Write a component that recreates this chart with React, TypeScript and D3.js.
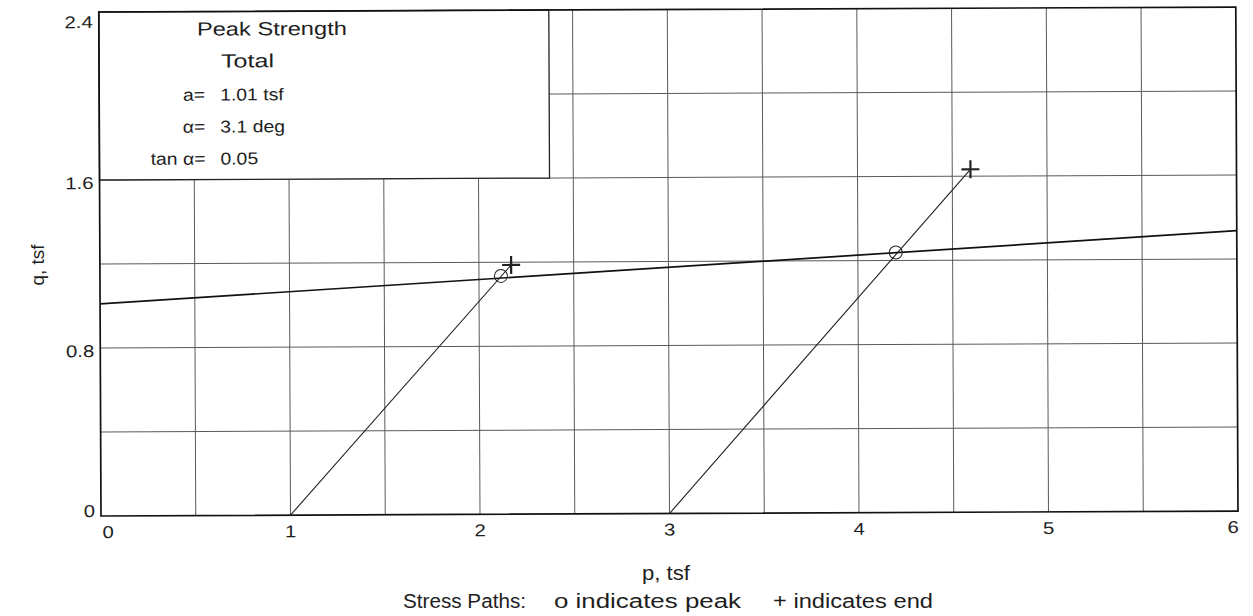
import React from "react";
import * as d3 from "d3";

const xTicks = [0, 1, 2, 3, 4, 5, 6];
const yTicks = [0, 0.8, 1.6, 2.4];
const xGrid = [0.5, 1, 1.5, 2, 2.5, 3, 3.5, 4, 4.5, 5, 5.5];
const yGrid = [0.4, 0.8, 1.2, 1.6, 2.0];

const envelopeA = 1.01;
const envelopeAlphaDeg = 3.1;

const path1P = [1, 2.17];
const path1Q = [0, 1.187];
const path2P = [3, 4.596];
const path2Q = [0, 1.633];
const peakP = [2.116, 4.2];
const peakQ = [1.135, 1.238];
const endP = [2.17, 4.596];
const endQ = [1.187, 1.633];

const legendLabels = ["a=", "\u03b1=", "tan \u03b1="];
const legendValues = ["1.01 tsf", "3.1 deg", "0.05"];

const W = 1253;
const H = 616;
const left = 101;
const right = 1238;
const top = 12;
const bottom = 516;
const font = "'Liberation Sans', Arial, Helvetica, sans-serif";
const textColor = "#1e1e1e";

type TProps = {
  x: number;
  y: number;
  size: number;
  sx?: number;
  anchor?: "start" | "middle" | "end";
  len?: number;
  children: React.ReactNode;
};

function T({ x, y, size, sx = 1.2, anchor = "start", len, children }: TProps) {
  return (
    <text
      transform={`translate(${x},${y}) scale(${len ? 1 : sx},1)`}
      fontSize={size}
      textAnchor={anchor}
      fill={textColor}
      textLength={len}
      lengthAdjust={len ? "spacingAndGlyphs" : undefined}
    >
      {children}
    </text>
  );
}

export default function App() {
  const x = d3.scaleLinear().domain([0, 6]).range([left, right]);
  const y = d3.scaleLinear().domain([0, 2.4]).range([bottom, top]);
  const line = d3
    .line<[number, number]>()
    .x((d) => x(d[0]))
    .y((d) => y(d[1]));
  const tanA = Math.tan((envelopeAlphaDeg * Math.PI) / 180);
  const env: [number, number][] = [
    [0, envelopeA],
    [6, envelopeA + tanA * 6],
  ];
  const p1: [number, number][] = path1P.map((p, i) => [p, path1Q[i]]);
  const p2: [number, number][] = path2P.map((p, i) => [p, path2Q[i]]);
  const gridColor = "#5a5a5a";
  const boxRight = 551;

  const yLabelOffset = (t: number) => (t === 0 ? 1 : t === 2.4 ? 16 : 9);

  return (
    <svg
      width={W}
      height={H}
      style={{ position: "absolute", left: 0, top: 0, background: "#fff" }}
      fontFamily={font}
    >
      <rect x={0} y={0} width={W} height={H} fill="#fff" />
      <g transform={`rotate(-0.25, ${left}, ${bottom})`}>
        {/* grid */}
        {xGrid.map((g) => (
          <line key={"xg" + g} x1={x(g)} x2={x(g)} y1={top} y2={bottom} stroke={gridColor} strokeWidth={1} />
        ))}
        {yGrid.map((g) => (
          <line key={"yg" + g} x1={left} x2={right} y1={y(g)} y2={y(g)} stroke={gridColor} strokeWidth={1} />
        ))}
        {/* legend box */}
        <rect x={left} y={top} width={boxRight - left} height={y(1.6) - top} fill="#fff" stroke="#222" strokeWidth={1.3} />
        <T x={199} y={36} size={19} len={150}>Peak Strength</T>
        <T x={223} y={68} size={19} len={53}>Total</T>
        {legendLabels.map((l, i) => (
          <g key={l}>
            <T x={207} y={101 + i * 32} size={17} sx={1.14} anchor="end">{l}</T>
            <T x={222} y={101 + i * 32} size={17} sx={1.14}>{legendValues[i]}</T>
          </g>
        ))}
        {/* frame */}
        <rect x={left} y={top} width={right - left} height={bottom - top} fill="none" stroke="#111" strokeWidth={1.7} />
        {/* envelope */}
        <path d={line(env) || ""} fill="none" stroke="#111" strokeWidth={1.7} />
        {/* stress paths */}
        <path d={line(p1) || ""} fill="none" stroke="#222" strokeWidth={1.1} />
        <path d={line(p2) || ""} fill="none" stroke="#222" strokeWidth={1.1} />
        {peakP.map((p, i) => (
          <circle key={"pk" + i} cx={x(p)} cy={y(peakQ[i])} r={6.5} fill="none" stroke="#222" strokeWidth={1} />
        ))}
        {endP.map((p, i) => {
          const cx = x(p);
          const cy = y(endQ[i]);
          return (
            <path
              key={"end" + i}
              d={`M${cx - 9},${cy}H${cx + 9}M${cx},${cy - 9}V${cy + 9}`}
              stroke="#222"
              strokeWidth={2.2}
            />
          );
        })}
        {/* tick labels */}
        {xTicks.map((t) => (
          <T key={"xt" + t} x={x(t) + (t === 0 ? 7 : t === 6 ? -5 : 0)} y={538} size={17} anchor="middle">
            {t}
          </T>
        ))}
        {yTicks.map((t) => (
          <T key={"yt" + t} x={95} y={y(t) + yLabelOffset(t)} size={17} anchor="end">
            {t === 0 ? "0" : t.toFixed(1)}
          </T>
        ))}
      </g>
      {/* axis titles */}
      <text transform={`translate(44,265) rotate(-90)`} fontSize={19} textAnchor="middle" fill={textColor}>q, tsf</text>
      <T x={642} y={580} size={20} len={48}>p, tsf</T>
      <T x={403} y={608} size={20} len={123}>Stress Paths:</T>
      <T x={554} y={608} size={20} len={187}>o indicates peak</T>
      <T x={773} y={608} size={20} len={160}>+ indicates end</T>
    </svg>
  );
}
